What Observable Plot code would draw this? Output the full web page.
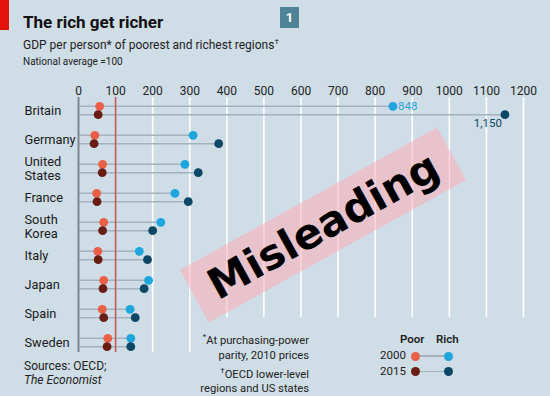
<!DOCTYPE html>
<html>
<head>
<meta charset="utf-8">
<script src="https://cdn.jsdelivr.net/npm/d3@7"></script>
<script src="https://cdn.jsdelivr.net/npm/@observablehq/plot@0.6"></script>
<style>
  html, body { margin: 0; padding: 0; }
  body { width: 550px; height: 396px; overflow: hidden; font-family: Roboto, "Noto Sans", sans-serif; color: #1a1a1a; }
  #wrap { position: relative; width: 550px; height: 396px; background: #cfdde7; }
  #chart { position: absolute; left: 0; top: 0; }
  .abs { position: absolute; white-space: nowrap; }
  #redtag { left: 0; top: 0; width: 9px; height: 30px; background: #e3120b; }
  #title { left: 23px; top: 12px; font-family: "Liberation Sans Narrow", Roboto, sans-serif; font-size: 17px; font-weight: 700; color: #111; }
  #subtitle { left: 23px; top: 37px; font-size: 12px; color: #222; }
  #unit { left: 23px; top: 56px; font-size: 10px; color: #222; }
  #numbox { left: 280px; top: 7px; width: 19px; height: 21px; background: #4e8398; color: #fff; font-weight: 700; font-size: 13px; text-align: center; line-height: 21px; }
  #cover { left: 196px; top: 317px; width: 354px; height: 79px; background: #cfdde7; }
  #notes { right: 241px; top: 329px; font-size: 11.2px; line-height: 15px; text-align: right; color: #222; }
  #sources { left: 24px; top: 359px; font-size: 12px; line-height: 14px; color: #222; }
  #stamp { left: 176px; top: 195px; width: 294px; height: 60px; background: rgba(255,170,180,0.52); transform: rotate(-29deg); display: flex; align-items: center; justify-content: center; }
  #stamp span { font-family: "DejaVu Sans", sans-serif; font-weight: 700; font-size: 42px; color: #000; }
  .lg { font-size: 11.5px; color: #222; }
  .dot { position: absolute; width: 9px; height: 9px; border-radius: 50%; }
  .lline { position: absolute; height: 1.5px; background: #a2b3bf; }
</style>
</head>
<body>
<div id="wrap">
  <div id="chart"></div>
  <div id="cover" class="abs"></div>
  <div id="redtag" class="abs"></div>
  <div id="title" class="abs">The rich get richer</div>
  <div id="subtitle" class="abs">GDP per person* of poorest and richest regions<sup style="font-size:8px">†</sup></div>
  <div id="unit" class="abs">National average =100</div>
  <div id="numbox" class="abs">1</div>
  <div id="sources" class="abs">Sources: OECD;<br><i>The Economist</i></div>
  <div id="notes" class="abs"><sup style="font-size:8px">*</sup>At purchasing-power<br>parity, 2010 prices<br><sup style="font-size:8px">†</sup>OECD lower-level<br>regions and US states</div>
  <div id="legend"></div>
  <div id="stamp" class="abs"><span>Misleading</span></div>
</div>
<script>
const countries = ["Britain", "Germany", "United States", "France", "South Korea", "Italy", "Japan", "Spain", "Sweden"];
const countryLabels = ["Britain", "Germany", "United\nStates", "France", "South\nKorea", "Italy", "Japan", "Spain", "Sweden"];
const poor2000 = [57, 44, 65, 49, 68, 52, 68, 64, 79];
const poor2015 = [53, 42, 64, 50, 65, 53, 66, 68, 77];
const rich2000 = [848, 309, 287, 260, 222, 164, 189, 139, 141];
const rich2015 = [1150, 378, 323, 296, 200, 186, 177, 153, 141];
const xTicks = [0, 100, 200, 300, 400, 500, 600, 700, 800, 900, 1000, 1100, 1200];
const gridTicks = [200, 300, 400, 500, 600, 700, 800, 900, 1000, 1100, 1200];
const years = ["2000", "2015"];

const colors = { poor2000: "#ea5f46", poor2015: "#6a1d12", rich2000: "#1ea5dd", rich2015: "#0c4866" };
const lineColor = "#a2b3bf";

const rows = [];
countries.forEach((c, i) => {
  rows.push({ country: c, year: "2000", poor: poor2000[i], rich: rich2000[i] });
  rows.push({ country: c, year: "2015", poor: poor2015[i], rich: rich2015[i] });
});
const r2000 = rows.filter(d => d.year === "2000");
const r2015 = rows.filter(d => d.year === "2015");
const labels = countries.map((c, i) => ({ country: c, label: countryLabels[i] }));
const fmt = d3.format(",");

const OFF = 4.2;
const plot = Plot.plot({
  width: 550,
  height: 396,
  marginLeft: 78,
  marginRight: 27,
  marginTop: 97,
  marginBottom: 44,
  style: { background: "transparent", fontFamily: "Roboto, 'Noto Sans', sans-serif", color: "#222" },
  x: { domain: [0, 1200] },
  y: { type: "point", domain: countries, range: [110.2, 342.7], padding: 0, axis: null },
  marks: [
    Plot.ruleX(gridTicks, { stroke: "#ffffff", strokeWidth: 1.6 }),
    Plot.axisX({ anchor: "top", ticks: xTicks, tickFormat: d => String(d), tickSize: 0, tickPadding: 3, fontSize: 12, label: null, fill: "#222" }),
    Plot.ruleY(r2000, { y: "country", x1: 0, x2: "rich", dy: -OFF, stroke: lineColor, strokeWidth: 1.5 }),
    Plot.ruleY(r2015, { y: "country", x1: 0, x2: "rich", dy: OFF, stroke: lineColor, strokeWidth: 1.5 }),
    Plot.ruleX([0], { stroke: "#7a8791", strokeWidth: 2 }),
    Plot.ruleX([100], { stroke: "#c65a52", strokeWidth: 1.6 }),
    Plot.dot(r2000, { x: "poor", y: "country", dy: -OFF, r: 4.4, fill: colors.poor2000 }),
    Plot.dot(r2015, { x: "poor", y: "country", dy: OFF, r: 4.4, fill: colors.poor2015 }),
    Plot.dot(r2000, { x: "rich", y: "country", dy: -OFF, r: 4.4, fill: colors.rich2000 }),
    Plot.dot(r2015, { x: "rich", y: "country", dy: OFF, r: 4.4, fill: colors.rich2015 }),
    Plot.text([r2000[0]], { x: "rich", y: "country", text: d => fmt(d.rich), dy: -OFF, dx: 5, textAnchor: "start", fill: colors.rich2000, fontSize: 11.5 }),
    Plot.text([r2015[0]], { x: "rich", y: "country", text: d => fmt(d.rich), dy: OFF + 9, dx: -3, textAnchor: "end", fill: colors.rich2015, fontSize: 11.5 }),
    Plot.text(labels, { y: "country", text: "label", frameAnchor: "left", dx: -54, textAnchor: "start", fontSize: 12.8, fill: "#1a1a1a", lineHeight: 1.08 })
  ]
});
document.getElementById("chart").appendChild(plot);

// legend
const lg = document.getElementById("legend");
function add(html) { lg.insertAdjacentHTML("beforeend", html); }
add(`<div class="abs lg" style="left:400px;top:332px;font-weight:600">Poor</div>`);
add(`<div class="abs lg" style="left:436px;top:332px;font-weight:600">Rich</div>`);
years.forEach((y, i) => {
  const top = 348 + i * 15.5;
  add(`<div class="abs lg" style="left:380px;top:${top}px">${y}</div>`);
  add(`<div class="lline" style="left:415px;top:${top + 7}px;width:33px"></div>`);
  add(`<div class="dot" style="left:410.5px;top:${top + 3.5}px;background:${i ? colors.poor2015 : colors.poor2000}"></div>`);
  add(`<div class="dot" style="left:444px;top:${top + 3.5}px;background:${i ? colors.rich2015 : colors.rich2000}"></div>`);
});
</script>
</body>
</html>
